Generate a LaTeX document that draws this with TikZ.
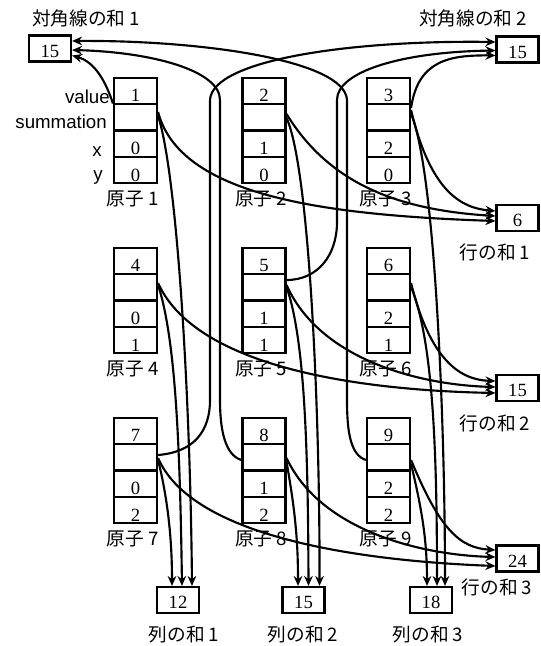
\documentclass[tikz,border=0pt]{standalone}
\usepackage{fontspec}
\setmainfont{Liberation Serif}
\newfontfamily\cjk{Noto Sans CJK JP}
\newfontfamily\lsans{Liberation Sans}
\usetikzlibrary{arrows.meta,calc}
\tikzset{
  atombox/.style={draw,line width=1.6pt,minimum width=32.25pt,minimum height=78.75pt,inner sep=0pt},
  sumbox/.style={draw,line width=1.6pt,minimum width=31.5pt,minimum height=19.5pt,inner sep=0pt,
     font=\fontsize{14pt}{16pt}\selectfont,text height=13pt,text depth=0pt},
  cellline/.style={line width=1.6pt},
  celltxt/.style={anchor=base,inner sep=0pt,font=\fontsize{14pt}{16pt}\selectfont},
  cjklbl/.style={inner sep=0pt,font=\cjk\fontsize{14pt}{16pt}\selectfont},
  fieldlbl/.style={anchor=base east,inner sep=0pt,font=\lsans\fontsize{14pt}{16pt}\selectfont},
  edge/.style={line width=1.6pt,-{Stealth[open,length=7.5pt,width=6.5pt,inset=2.5pt]}},
}
\newcommand\atomrec[7]{%
  \node[atombox] (a#1) at (#2,#3+52.5) {};
  \draw[cellline] (#2-21.5,#3+26.25) -- (#2+21.5,#3+26.25);
  \draw[cellline] (#2-21.5,#3+52.5) -- (#2+21.5,#3+52.5);
  \draw[cellline] (#2-21.5,#3+78.75) -- (#2+21.5,#3+78.75);
  \node[celltxt] (v#1) at (#2,#3+23.5) {#4};
  \node[celltxt] (x#1) at (#2,#3+76) {#5};
  \node[celltxt] (y#1) at (#2,#3+103) {#6};
  \node[cjklbl] (l#1) at (#2-3,#3+121) {#7};
}
\begin{document}
\begin{tikzpicture}[x=0.75pt,y=-0.75pt]
\useasboundingbox (0,0) rectangle (540,646);
% atoms
\atomrec{1}{135.5}{78}{1}{0}{0}{原子 1}
\atomrec{2}{264}{78}{2}{1}{0}{原子 2}
\atomrec{3}{388.5}{78}{3}{2}{0}{原子 3}
\atomrec{4}{135.5}{248}{4}{0}{1}{原子 4}
\atomrec{5}{264}{248}{5}{1}{1}{原子 5}
\atomrec{6}{388.5}{248}{6}{2}{1}{原子 6}
\atomrec{7}{135.5}{418}{7}{0}{2}{原子 7}
\atomrec{8}{264}{418}{8}{1}{2}{原子 8}
\atomrec{9}{388.5}{418}{9}{2}{2}{原子 9}
% field labels
\node[fieldlbl] (fv) at (110,103) {value};
\node[fieldlbl] (fs) at (107,128) {summation};
\node[fieldlbl] (fx) at (102,156) {x};
\node[fieldlbl] (fy) at (103,180) {y};
% sum boxes
\node[sumbox] (d1) at (50,48.5) {15};
\node[sumbox] (d2) at (517.5,49.5) {15};
\node[sumbox] (r1) at (517.5,218) {6};
\node[sumbox] (r2) at (517.5,388) {15};
\node[sumbox] (r3) at (517.5,558.5) {24};
\node[sumbox] (c1) at (178,600) {12};
\node[sumbox] (c2) at (303.5,600) {15};
\node[sumbox] (c3) at (431,600) {18};
% sum labels
\node[cjklbl] (ld1) at (86,18) {対角線の和 1};
\node[cjklbl] (ld2) at (473,18) {対角線の和 2};
\node[cjklbl] (lr1) at (495,252) {行の和 1};
\node[cjklbl] (lr2) at (495,423) {行の和 2};
\node[cjklbl] (lr3) at (497,587) {行の和 3};
\node[cjklbl] (lc1) at (184,635) {列の和 1};
\node[cjklbl] (lc2) at (303,635) {列の和 2};
\node[cjklbl] (lc3) at (428,635) {列の和 3};
% row 1 edges
\draw[edge] ($(a1.west)+(0,-27)$) .. controls (106,82) and (95,62) .. ($(d1.east)+(0,7)$);
\draw[edge] ($(a1.east)+(0,-18.5)$) .. controls (180,195) and (320,215) .. ($(r1.west)+(0,3)$);
\draw[edge] ($(a1.east)+(0,-14.5)$) .. controls (176,170) and (190,380) .. ($(c1.north)+(14,0)$);
\draw[edge] ($(a2.east)+(0,-16.5)$) .. controls (330,185) and (400,210) .. ($(r1.west)+(0,-2)$);
\draw[edge] ($(a2.east)+(0,-12.5)$) .. controls (310,170) and (320,420) .. ($(c2.north)+(16,0)$);
\draw[edge] ($(a3.east)+(0,-22.5)$) .. controls (418,60) and (450,55) .. ($(d2.west)+(0,6)$);
\draw[edge] ($(a3.east)+(0,-20.5)$) .. controls (430,190) and (460,208) .. ($(r1.west)+(0,-7)$);
\draw[edge] ($(a3.east)+(0,-16.5)$) .. controls (435,170) and (445,420) .. ($(c3.north)+(14,0)$);
% row 2 edges
\draw[edge] ($(a4.east)+(0,-17.5)$) .. controls (195,365) and (350,390) .. ($(r2.west)+(0,5)$);
\draw[edge] ($(a4.east)+(0,-15.5)$) .. controls (176,340) and (180,450) .. ($(c1.north)+(4,0)$);
\draw[edge] ($(a5.east)+(0,-20.5)$) .. controls (318,280) and (337,255) .. (337,222) -- (337,100)
   .. controls (337,72) and (400,52) .. ($(d2.west)+(0,1)$);
\draw[edge] ($(a5.east)+(0,-15.5)$) .. controls (320,360) and (420,385) .. ($(r2.west)+(0,-1)$);
\draw[edge] ($(a5.east)+(0,-13.5)$) .. controls (305,340) and (308,450) .. ($(c2.north)+(5,0)$);
\draw[edge] ($(a6.east)+(0,-17.5)$) .. controls (430,360) and (460,380) .. ($(r2.west)+(0,-7)$);
\draw[edge] ($(a6.east)+(0,-13.5)$) .. controls (433,340) and (437,450) .. ($(c3.north)+(6,0)$);
% row 3 edges
\draw[edge] ($(a7.east)+(0,-15.5)$) .. controls (195,452) and (210,430) .. (210,400) -- (210,100)
   .. controls (212,60) and (350,40) .. ($(d2.west)+(0,-7.5)$);
\draw[edge] ($(a7.east)+(0,-12.5)$) .. controls (190,532) and (340,560) .. ($(r3.west)+(0,7.5)$);
\draw[edge] ($(a7.east)+(0,-10.5)$) .. controls (168,500) and (172,540) .. ($(c1.north)+(-6,0)$);
\draw[edge] ($(a8.west)+(0,-10.5)$) .. controls (225,455) and (220,430) .. (220,400) -- (220,100)
   .. controls (220,70) and (150,52) .. ($(d1.east)+(0,1.5)$);
\draw[edge] ($(a8.east)+(0,-12.5)$) .. controls (320,530) and (420,555) .. ($(r3.west)+(0,-1.5)$);
\draw[edge] ($(a8.east)+(0,-8.5)$) .. controls (295,510) and (298,540) .. ($(c2.north)+(-5.5,0)$);
\draw[edge] ($(a9.west)+(0,-10.5)$) .. controls (350,455) and (347,430) .. (347,400) -- (347,100)
   .. controls (345,60) and (200,40) .. ($(d1.east)+(0,-7.5)$);
\draw[edge] ($(a9.east)+(0,-10.5)$) .. controls (440,530) and (460,548) .. ($(r3.west)+(0,-8.5)$);
\draw[edge] ($(a9.east)+(0,-6.5)$) .. controls (422,510) and (427,540) .. ($(c3.north)+(-4,0)$);
\end{tikzpicture}
\end{document}
